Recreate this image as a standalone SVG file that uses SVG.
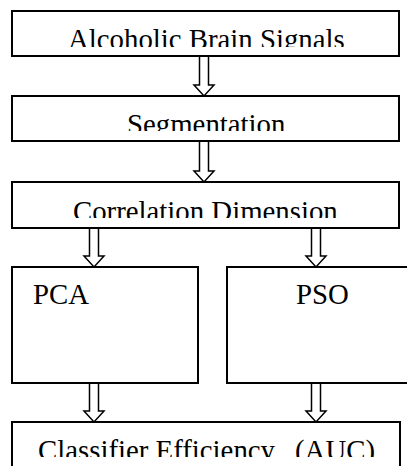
<svg xmlns="http://www.w3.org/2000/svg" width="407" height="466" viewBox="0 0 407 466">
<style>
.box{fill:#fff;stroke:#000;stroke-width:2}
.arr{fill:#fff;stroke:#000;stroke-width:1.5;stroke-linejoin:miter}
.t{font-family:'Liberation Serif','Times New Roman',serif;font-size:28.8px;fill:#000}
</style>
<defs>
<clipPath id="c1"><rect x="12" y="11" width="387" height="36"/></clipPath>
<clipPath id="c2"><rect x="12" y="96" width="387" height="35"/></clipPath>
<clipPath id="c3"><rect x="12" y="182" width="387" height="36"/></clipPath>
<clipPath id="c4"><rect x="12" y="422" width="388" height="35"/></clipPath>
</defs>
<rect width="407" height="466" fill="#fff"/>
<g id="connectors">
<path class="arr" d="M199.5,56 V85 H194 L204,96 L214,85 H208.5 V56 Z"/>
<path class="arr" d="M199.5,141 V171 H194 L204,182 L214,171 H208.5 V141 Z"/>
<path class="arr" d="M89.5,228 V256 H84 L94,267 L104,256 H98.5 V228 Z"/>
<path class="arr" d="M311.5,228 V256 H306 L316,267 L326,256 H320.5 V228 Z"/>
<path class="arr" d="M89.5,383 V411 H84 L94,422 L104,411 H98.5 V383 Z"/>
<path class="arr" d="M311.5,383 V411 H306 L316,422 L326,411 H320.5 V383 Z"/>
</g>
<g id="n1">
<rect class="box" x="12" y="11" width="387" height="45"/>
<text class="t" x="68" y="48.5" clip-path="url(#c1)">Alcoholic Brain Signals</text>
</g>
<g id="n2">
<rect class="box" x="12" y="96" width="387" height="45"/>
<text class="t" x="127" y="134" clip-path="url(#c2)">Segmentation</text>
</g>
<g id="n3">
<rect class="box" x="12" y="182" width="387" height="46"/>
<text class="t" x="73" y="221" clip-path="url(#c3)">Correlation Dimension</text>
</g>
<g id="n4">
<rect class="box" x="12" y="267" width="186" height="116"/>
<text class="t" x="33" y="304">PCA</text>
</g>
<g id="n5">
<rect class="box" x="227" y="267" width="200" height="116"/>
<text class="t" x="296" y="304">PSO</text>
</g>
<g id="n6">
<rect class="box" x="12" y="422" width="388" height="60"/>
<text class="t" y="459.5" clip-path="url(#c4)"><tspan x="38">Classifier Efficiency</tspan><tspan x="295">(AUC)</tspan></text>
</g>
</svg>
